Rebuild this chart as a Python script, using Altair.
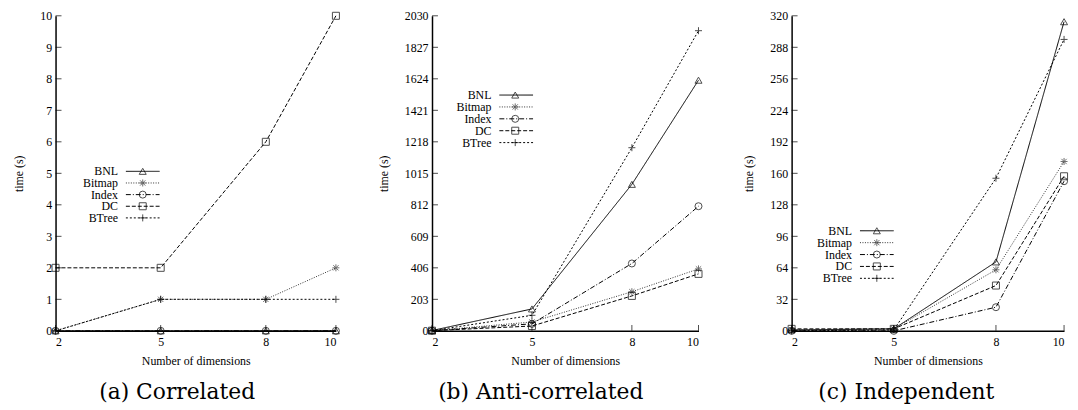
import altair as alt
import pandas as pd

dims = [2, 5, 8, 10]
series = ["BNL", "Bitmap", "Index", "DC", "BTree"]

# (a) Correlated
corr_bnl = [0, 0, 0, 0]
corr_bitmap = [0, 1, 1, 2]
corr_index = [0, 0, 0, 0]
corr_dc = [2, 2, 6, 10]
corr_btree = [0, 1, 1, 1]

# (b) Anti-correlated
anti_bnl = [2, 141, 944, 1615]
anti_bitmap = [1, 57, 252, 399]
anti_index = [1, 45, 434, 803]
anti_dc = [1, 31, 225, 367]
anti_btree = [1, 100, 1180, 1934]

# (c) Independent
ind_bnl = [1, 2, 70, 314]
ind_bitmap = [1, 2, 62, 172]
ind_index = [0, 0, 24, 152]
ind_dc = [2, 2, 46, 157]
ind_btree = [0, 1, 155, 296]

yticks_a = [0, 1, 2, 3, 4, 5, 6, 7, 8, 9, 10]
yticks_b = [0, 203, 406, 609, 812, 1015, 1218, 1421, 1624, 1827, 2030]
yticks_c = [0, 32, 64, 96, 128, 160, 192, 224, 256, 288, 320]

STAR = "M-1,0L1,0M0,-1L0,1M-0.75,-0.75L0.75,0.75M-0.75,0.75L0.75,-0.75"
PLUS = "M-1,0L1,0M0,-1L0,1"
dashes = [[1, 0], [1, 1.5], [5, 2, 1, 2], [4, 2], [2, 2]]
shapes = ["triangle-up", STAR, "circle", "square", PLUS]
colors = ["#000000", "#333333", "#000000", "#000000", "#000000"]

SERIF = "Liberation Serif"
CAPTION = "DejaVu Serif"

dash_scale = alt.Scale(domain=series, range=dashes)
shape_scale = alt.Scale(domain=series, range=shapes)
color_scale = alt.Scale(domain=series, range=colors)
x_scale = alt.Scale(domain=[2, 10], nice=False, zero=False)

H = 318


def long_df(vals):
    rows = []
    for s, v in zip(series, vals):
        for d, t in zip(dims, v):
            rows.append({"dim": d, "time": t, "series": s})
    return pd.DataFrame(rows)


def panel(vals, ymax, yticks, caption, width, leg_rows, leg_x):
    df = long_df(vals)
    y_scale = alt.Scale(domain=[0, ymax], nice=False)
    base = alt.Chart(df)
    lines = base.mark_line(strokeWidth=1).encode(
        x=alt.X("dim:Q", scale=x_scale,
                axis=alt.Axis(values=dims, title="Number of dimensions", labelPadding=6,
                              titlePadding=8, format="d")),
        y=alt.Y("time:Q", scale=y_scale,
                axis=alt.Axis(values=yticks, title="time (s)", labelPadding=4,
                              titlePadding=14, format="d")),
        strokeDash=alt.StrokeDash("series:N", scale=dash_scale, legend=None),
        color=alt.Color("series:N", scale=color_scale, legend=None),
        detail="series:N",
    )
    pts = base.mark_point(filled=False, strokeWidth=1, size=50).encode(
        x=alt.X("dim:Q", scale=x_scale),
        y=alt.Y("time:Q", scale=y_scale, axis=None),
        shape=alt.Shape("series:N", scale=shape_scale, legend=None),
        color=alt.Color("series:N", scale=color_scale, legend=None),
    )
    ydf = pd.DataFrame({"v": yticks})
    ytick = alt.Chart(ydf).mark_tick(orient="horizontal", size=6, thickness=1, color="black").encode(
        x=alt.value(3),
        y=alt.Y("v:Q", scale=y_scale, axis=None),
    )
    xdf = pd.DataFrame({"d": dims})
    xtick = alt.Chart(xdf).mark_tick(orient="vertical", size=6, thickness=1, color="black").encode(
        x=alt.X("d:Q", scale=x_scale),
        y=alt.value(H - 3),
    )
    ldf = pd.DataFrame({"series": series})
    ly = alt.Y("series:N", scale=alt.Scale(type="point", domain=series, range=leg_rows, padding=0), axis=None)
    lab_x, s0, s1, mx = leg_x
    ltext = alt.Chart(ldf).mark_text(align="right", baseline="middle", font=SERIF, fontSize=12, color="black").encode(
        x=alt.value(lab_x), y=ly, text="series:N")
    lrule = alt.Chart(ldf).mark_rule(strokeWidth=1).encode(
        x=alt.value(s0), x2=alt.value(s1), y=ly,
        strokeDash=alt.StrokeDash("series:N", scale=dash_scale, legend=None),
        color=alt.Color("series:N", scale=color_scale, legend=None))
    lpt = alt.Chart(ldf).mark_point(filled=False, strokeWidth=1, size=50).encode(
        x=alt.value(mx), y=ly,
        shape=alt.Shape("series:N", scale=shape_scale, legend=None),
        color=alt.Color("series:N", scale=color_scale, legend=None))
    return alt.layer(lines, pts, ytick, xtick, lrule, lpt, ltext).resolve_scale(y="independent").properties(
        width=width, height=H,
        title=alt.TitleParams(caption, orient="bottom", anchor="middle", frame="bounds",
                              font=CAPTION, fontSize=22, fontWeight="normal",
                              color="black", offset=16),
    )


pa = panel([corr_bnl, corr_bitmap, corr_index, corr_dc, corr_btree], 10, yticks_a,
           "(a) Correlated", 283, [157, 204], (63, 71, 105, 88))
pb = panel([anti_bnl, anti_bitmap, anti_index, anti_dc, anti_btree], 2030, yticks_b,
           "(b) Anti-correlated", 269, [80, 128], (60, 68, 102, 84))
pc = panel([ind_bnl, ind_bitmap, ind_index, ind_dc, ind_btree], 320, yticks_c,
           "(c) Independent", 275, [217, 265], (61, 69, 103, 86))

chart = alt.hconcat(
    pa,
    alt.hconcat(pb, pc, spacing=94, bounds="flush"),
    spacing=97, bounds="flush",
).properties(
    padding={"left": 5, "top": 0, "right": 0, "bottom": 0}
).configure_axis(
    labelFont=SERIF, titleFont=SERIF, labelFontSize=12, titleFontSize=12,
    titleFontWeight="normal", labelColor="black", titleColor="black",
    domainColor="black", domainWidth=1.5, ticks=False, grid=False,
).configure_view(stroke=None)

chart.save("out.html", embed_options={"renderer": "svg", "actions": False})
